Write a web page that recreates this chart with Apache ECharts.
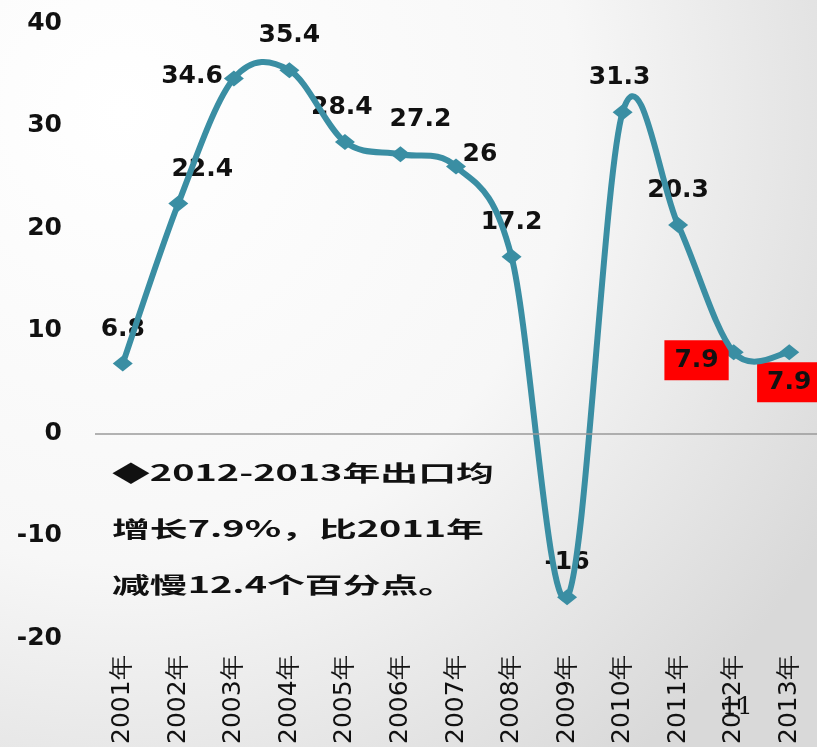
<!DOCTYPE html>
<html><head><meta charset="utf-8">
<script src="https://cdn.jsdelivr.net/npm/echarts@6/dist/echarts.min.js"></script>
<style>html,body{margin:0;padding:0;}#c{width:817px;height:747px;}</style>
</head><body><div id="c"></div>
<script>
const categories = ['2001年','2002年','2003年','2004年','2005年','2006年','2007年','2008年','2009年','2010年','2011年','2012年','2013年'];
const values = [6.8, 22.4, 34.6, 35.4, 28.4, 27.2, 26, 17.2, -16, 31.3, 20.3, 7.9, 7.9];
const yTicks = [-20, -10, 0, 10, 20, 30, 40];
const noteLines = ['◆2012-2013年出口均', '增长7.9%，比2011年', '减慢12.4个百分点。'];
const pageNumber = '11';

const NUM_FONT = 'DejaVu Sans';
const LINE_COLOR = '#3a8ea3';
const labelStyles = [
  {},
  {offset: [24, 0]},
  {position: 'left', distance: 1, offset: [0, -2]},
  {},
  {offset: [-3, 0]},
  {offset: [20, 0]},
  {offset: [24, 22]},
  {},
  {},
  {offset: [-3, 0]},
  {},
  {position: 'left', distance: 5, offset: [10, 8], backgroundColor: '#ff0000', padding: [8, 10, 7, 10]},
  {position: 'bottom', distance: 2, offset: [0, 0], backgroundColor: '#ff0000', padding: [8, 10, 7, 10]}
];

const seriesData = values.map((v, i) => ({value: v, label: labelStyles[i]}));

// smooth curve (Catmull-Rom style, like office "smoothed line"), positions via axis scales
function renderCurve(params, api) {
  if (params.dataIndex !== 0) return null;
  const pts = values.map((v, i) => api.coord([i, v]));
  const n = pts.length;
  let d = 'M' + pts[0][0] + ' ' + pts[0][1];
  for (let i = 0; i < n - 1; i++) {
    const p0 = pts[Math.max(0, i - 1)], p1 = pts[i], p2 = pts[i + 1], p3 = pts[Math.min(n - 1, i + 2)];
    const c1x = p1[0] + (p2[0] - p0[0]) / 6, c1y = p1[1] + (p2[1] - p0[1]) / 6;
    const c2x = p2[0] - (p3[0] - p1[0]) / 6, c2y = p2[1] - (p3[1] - p1[1]) / 6;
    d += ' C' + c1x + ' ' + c1y + ' ' + c2x + ' ' + c2y + ' ' + p2[0] + ' ' + p2[1];
  }
  return {
    type: 'path',
    shape: {pathData: d},
    style: {fill: 'none', stroke: LINE_COLOR, lineWidth: 6, lineJoin: 'round', lineCap: 'round'}
  };
}

const chart = echarts.init(document.getElementById('c'));
chart.setOption({
  animation: false,
  backgroundColor: {
    type: 'radial', x: 0.15, y: 0.15, r: 1.1,
    colorStops: [{offset: 0, color: '#ffffff'}, {offset: 0.55, color: '#f7f7f7'}, {offset: 1, color: '#d9d9d9'}]
  },
  grid: {left: 95, right: -2, top: 23, bottom: 107, containLabel: false},
  xAxis: {
    type: 'category', data: categories, boundaryGap: true,
    axisLine: {show: false, onZero: false}, axisTick: {show: false},
    axisLabel: {rotate: 90, margin: 17, color: '#111', fontFamily: NUM_FONT, fontSize: 25}
  },
  yAxis: {
    type: 'value', min: yTicks[0], max: yTicks[yTicks.length - 1], interval: 10,
    axisLine: {show: false}, axisTick: {show: false}, splitLine: {show: false},
    axisLabel: {margin: 33, color: '#111', fontFamily: NUM_FONT, fontWeight: 'bold', fontSize: 25}
  },
  series: [{
    type: 'line', data: seriesData,
    symbol: 'diamond', symbolSize: [20, 16],
    lineStyle: {opacity: 0},
    itemStyle: {color: LINE_COLOR},
    label: {show: true, position: 'top', distance: 14, color: '#111', fontFamily: NUM_FONT, fontWeight: 'bold', fontSize: 25},
    markLine: {
      silent: true, symbol: 'none', label: {show: false},
      lineStyle: {color: '#9a9a9a', width: 1.5, type: 'solid'},
      data: [{yAxis: 0}]
    },
    z: 2
  }, {
    type: 'custom', data: values.map((v, i) => [i, v]),
    encode: {x: 0, y: 1}, renderItem: renderCurve, clip: false, silent: true, z: 3
  }],
  graphic: [
    {
      type: 'group', x: 112, y: 462, scaleX: 1.72,
      children: noteLines.map((t, i) => ({
        type: 'text', x: 0, y: i * 56,
        style: {text: t, fontFamily: 'Noto Sans CJK SC', fontWeight: 'bold', fontSize: 22, fill: '#111', verticalAlign: 'top'}
      }))
    },
    {
      type: 'text', x: 722, y: 696,
      style: {text: pageNumber, fontFamily: 'DejaVu Serif', fontSize: 24, fill: '#111'}
    }
  ]
});
</script>
</body></html>
